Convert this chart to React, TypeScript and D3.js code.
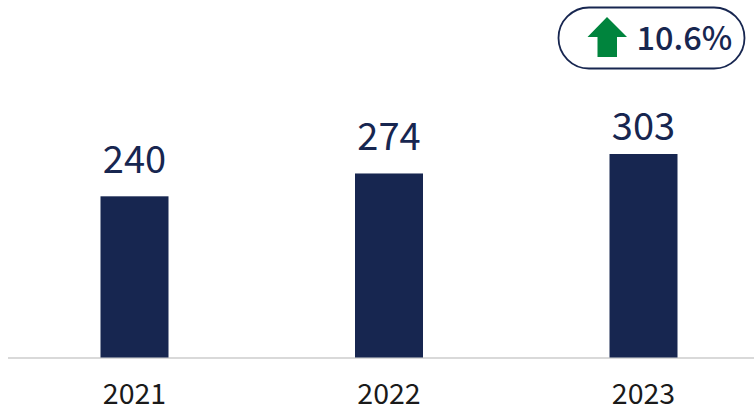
import React from "react";
import * as d3 from "d3";

const years = ["2021", "2022", "2023"];
const values = [240, 274, 303];
const labelGaps = [23, 23, 14];
const badgeText = "10.6%";

const W = 754, H = 407;
const baseY = 357.5;
const x = d3.scalePoint<string>().domain(years).range([134.5, 643.5]);
const y = d3.scaleLinear().domain([0, 303]).range([baseY, 154]);
const navy = "#172650";
const font = "'Noto Sans CJK JP','Noto Sans',sans-serif";

export default function App() {
  return (
    <svg width={W} height={H} style={{ position: "absolute", left: 0, top: 0 }}>
      <line x1={8} x2={754} y1={358} y2={358} stroke="#d9d9d9" strokeWidth={2} />
      {years.map((yr, i) => (
        <g key={yr}>
          <rect x={x(yr)! - 34} width={68} y={y(values[i])} height={baseY - y(values[i])} fill={navy} />
          <text x={x(yr)!} y={y(values[i]) - labelGaps[i]} textAnchor="middle" fontFamily={font} fontSize={38} fill={navy}>{values[i]}</text>
          <text x={x(yr)!} y={403.5} textAnchor="middle" fontFamily={font} fontSize={28.5} fill="#1a1a1a">{yr}</text>
        </g>
      ))}
      <rect x={558.5} y={7.5} width={186} height={61} rx={30.5} fill="#fff" stroke={navy} strokeWidth={1.8} />
      <path d={d3.line()([[607, 17], [627, 37], [617, 37], [617, 57], [597.5, 57], [597.5, 37], [587.5, 37]])! + "Z"} fill="#00843d" />
      <text x={636.5} y={50} fontFamily={font} fontSize={32.5} fontWeight={500} fill={navy}>{badgeText}</text>
    </svg>
  );
}
